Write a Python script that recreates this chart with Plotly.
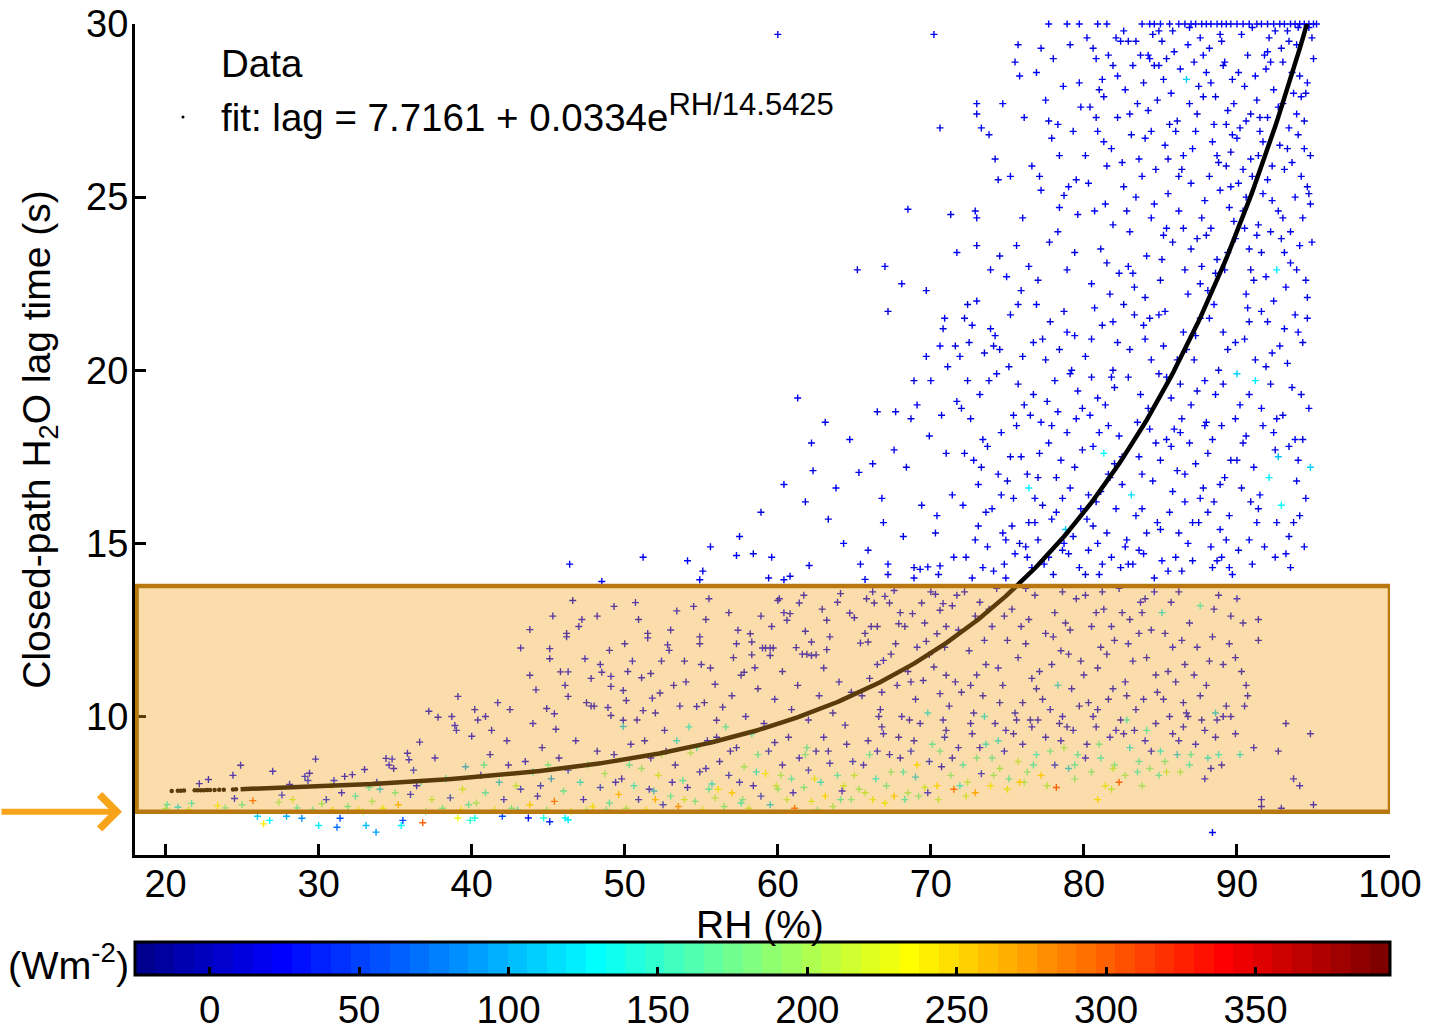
import numpy as np
import plotly.graph_objects as go

# ---------------- data: (RH %, lag s, irradiance W m-2) ----------------
pts_top_row = [
    (77.7,30,22),(78.9,30,18),(79.7,30,25),(80.9,30,15),(81.5,30,20),(83.8,30,12),(84.3,30,24),(84.6,30,16),
    (85.0,30,30),(85.6,30,14),(86.2,30,21),(86.6,30,9),(87.0,30,26),(87.3,30,17),(87.7,30,11),(88.0,30,23),
    (88.3,30,19),(88.7,30,28),(89.0,30,13),(89.3,30,20),(89.6,30,8),(90.0,30,24),(90.4,30,16),(90.8,30,22),
    (91.3,30,10),(91.6,30,27),(92.0,30,15),(92.4,30,19),(92.8,30,12),(93.1,30,25),(93.5,30,18),(93.8,30,21),
    (94.1,30,14),(94.4,30,26),(94.7,30,11),(95.0,30,17),(95.2,30,23)]

pts_upper_sparse = [
    (46.4,14.4,18),(48.5,13.9,22),(51.2,14.6,15),(54.1,14.5,27),(55.1,14.2,12),(54.9,13.95,20),(55.6,14.9,16),
    (57.3,14.65,24),(58.4,14.7,11),(59.6,14.6,19),(59.4,14.0,14),(60.4,13.95,21),(60.8,14.05,9),(62.05,14.36,17),
    (65.4,14.4,13),(67.2,14.4,25),(67.2,14.1,16),(65.7,13.96,20),(68.9,14.3,12),(69.3,14.25,18),(69.8,14.32,23),
    (68.9,14.0,15),(70.5,14.1,19),(70.6,14.35,11),
    (60.0,29.7,16),(70.2,29.7,21),(70.6,27.0,13),(68.5,24.65,18),(71.3,24.5,10),(71.7,23.4,22),(69.7,22.3,15),
    (68.1,22.5,19),(65.2,22.9,12),(67.0,23.0,17),(67.2,21.7,14),(70.9,21.5,20),(70.8,21.2,11),(69.7,20.4,18),
    (70.6,20.7,23),(71.6,20.7,13),(71.9,20.4,16),(70.0,19.7,21),(68.9,19.7,9),(69.1,19.0,17),(68.7,18.6,14),
    (67.7,18.8,20),(66.5,18.8,12),(64.7,18.0,18),(63.1,18.5,15),(61.3,19.2,22),(62.3,17.1,11),(65.3,17.05,19),
    (66.2,17.3,16),(67.6,17.7,13),(60.4,16.7,21),(61.8,16.2,17),(63.3,15.7,10),(64.3,15.0,24),(62.2,17.9,14),
    (66.9,15.6,19),(65.9,14.8,12),(68.2,15.2,20),(69.4,16.1,15),(71.0,17.6,18),(70.3,15.3,13),(71.4,16.4,22),
    (69.9,18.1,11),(71.7,19.1,17),(57.5,15.2,20),(58.9,15.9,14),(63.8,16.6,18),(66.8,16.3,21),(68.4,17.2,12),
    (70.7,18.7,16)]

pts_upper_mid = [
    (72.9,24.6,14),(73.0,27.7,20),(73.0,27.4,11),(73.3,27.0,17),(73.8,26.8,9),(74.7,27.7,23),(75.7,29.4,15),
    (75.5,28.9,12),(75.8,28.5,19),(77.2,29.3,16),(77.5,27.8,21),(77.7,27.2,13),(78.3,27.1,18),(77.9,26.7,10),
    (78.65,28.2,24),(79.1,29.4,14),(79.7,28.3,20),(73.0,24.4,16),(73.0,23.6,11),(72.4,21.9,13),(73.9,22.9,18),
    (74.5,23.3,9),(74.95,22.7,25),(75.6,23.6,15),(75.9,22.3,12),(76.4,23.0,20),(76.6,25.9,17),(77.1,25.6,11),
    (75.2,25.6,23),(74.4,25.5,14),(77.2,25.2,19),(77.75,23.7,10),(78.3,24.0,16),(78.4,24.7,21),(78.7,25.05,13),
    (79.6,24.5,18),(79.5,25.5,12),(79.0,25.3,24),(78.4,26.2,15),(76.1,27.3,19),(74.2,26.1,13),(79.3,26.9,17),
    (76.9,28.6,22),(78.0,29.0,11),(79.8,27.6,16),(77.0,22.6,14),(78.9,22.9,20),(79.4,23.4,12),(76.0,24.4,18),
    (72.3,14.6,17),(73.6,15.9,12),(72.8,17.4,21),(74.1,14.2,15),(73.2,19.3,19),(75.3,15.5,10),(74.6,18.2,23),
    (72.5,20.8,14),(76.2,14.9,18),(75.0,16.8,13),(73.9,21.2,20),(76.8,16.3,16),(75.7,19.6,11),(77.4,14.4,22),
    (74.4,17.0,15),(77.9,15.7,19),(76.5,18.7,12),(72.1,16.1,24),(78.6,14.8,17),(75.2,21.6,13),(77.1,17.6,20),
    (79.3,15.2,14),(76.0,20.4,18),(78.2,16.9,11),(73.4,18.0,21),(79.7,14.3,16),(74.9,14.0,25),(77.6,19.1,13),
    (78.9,18.2,19),(76.4,15.6,15),(79.1,16.6,22),(72.9,15.1,12),(75.9,17.5,17),(78.4,20.6,14),(74.3,19.9,20),
    (77.8,21.4,10),(79.6,19.4,18),(73.0,22.0,15),(76.9,21.9,21),(78.0,14.1,13),(75.5,14.7,19),(72.6,18.6,16),
    (79.9,17.7,12),(74.0,16.0,23),(77.3,16.1,14),(78.8,15.4,110),(76.3,17.0,17),(73.7,14.9,20),(75.1,20.1,11),
    (79.4,21.0,18),(72.2,21.5,13),(78.3,18.8,22),(76.6,14.3,15),(74.7,15.3,19),(77.5,20.3,12),(79.0,14.7,16),
    (73.1,16.7,21),(75.6,18.4,14),(78.5,17.4,18),(76.1,19.0,10),(74.2,21.0,24),(77.0,15.1,13),(79.5,18.6,17),
    (72.7,14.0,20),(75.4,16.3,15),(78.1,19.7,19),(73.5,20.5,12),(76.7,20.8,16),(79.8,16.0,22),(74.8,14.4,14),
    (77.7,17.9,18),(75.8,15.0,11),(78.7,21.7,20),(73.3,17.2,13),(76.4,16.6,125),(79.2,20.0,17),(74.5,20.6,15),
    (77.2,18.5,21),(72.4,19.7,12),(78.6,16.3,19),
    (70.4,15.8,16),(71.5,14.6,21),(72.2,17.6,13),(73.1,15.5,18),(73.8,19.7,12),(74.6,16.4,20),(75.4,18.7,15),
    (76.3,14.6,19),(77.0,16.9,11),(77.9,18.4,17),(78.7,15.0,22),(79.4,17.2,14),(80.3,16.4,18),(81.2,14.4,13),
    (81.8,19.8,20),(71.1,20.1,15),(72.7,21.3,19),(74.1,20.7,12),(75.7,21.9,18),(77.3,20.9,14),(78.9,21.1,21),
    (80.5,20.9,16),(81.6,17.0,12),(76.8,15.6,19),(74.9,15.1,15),(73.4,14.3,22),(72.0,18.9,13),(78.2,15.9,17),
    (79.9,18.9,20),(75.2,17.5,11),(76.7,19.3,18),(79.1,19.9,14),(73.7,17.8,16),(77.7,14.6,19),(80.1,14.1,13)]

pts_upper_dense = [
    (80.2,29.6,18),(80.6,29.3,12),(80.8,29.0,22),(81.2,28.4,15),(81.6,29.1,20),(81.9,28.8,11),(82.1,29.6,17),
    (82.4,29.5,24),(82.9,29.5,13),(83.4,29.5,19),(83.7,29.1,9),(84.2,29.1,21),(84.5,29.7,14),(84.9,29.8,18),
    (85.1,29.5,12),(84.3,29.0,23),(84.9,28.8,16),(85.4,29.0,10),(85.9,29.2,20),(86.3,28.7,15),(86.8,29.4,22),
    (87.2,28.9,13),(87.6,29.6,17),(80.4,27.6,14),(80.9,26.9,21),(81.3,27.9,12),(81.8,26.4,18),(82.2,27.3,16),
    (82.7,28.1,23),(83.1,26.8,11),(83.5,27.7,19),(83.9,28.3,14),(84.4,26.9,20),(84.8,27.8,13),(85.3,26.5,17),
    (85.7,28.0,24),(86.1,27.2,12),(86.5,26.2,18),(86.9,27.7,15),(87.3,26.9,21),(87.8,27.9,10),(80.3,25.4,16),
    (80.7,24.6,22),(81.1,23.5,13),(81.5,25.9,19),(81.9,24.2,11),(82.3,22.8,17),(82.6,25.3,14),(83.0,24.0,23),
    (83.3,22.4,12),(83.8,25.6,18),(84.1,23.3,15),(84.6,24.8,20),(85.0,22.6,13),(85.5,25.1,17),(85.8,23.7,10),
    (86.2,24.6,22),(86.6,22.9,14),(87.0,25.4,19),(87.4,23.8,12),(87.9,24.9,16),(80.5,22.5,18),(81.7,22.2,14),
    (82.9,23.0,21),(84.0,22.1,13),(85.2,23.9,18),(86.4,25.8,11),(87.6,22.5,20),(81.4,24.8,15),(83.6,26.1,17),
    (85.6,27.1,12),(87.1,26.4,23),(80.1,26.2,16),(82.5,26.0,19),(84.7,25.8,14),(86.7,28.4,110),(83.2,28.8,17),
    (81.0,28.1,13),(85.4,24.1,21),(87.7,23.0,15),
    (80.3,14.8,16),(81.7,16.9,12),(80.9,19.2,20),(82.4,14.3,14),(83.6,17.5,18),(81.2,21.3,11),(84.8,15.6,22),
    (82.9,19.8,15),(85.5,14.2,19),(83.3,21.6,13),(86.1,17.1,17),(80.6,17.8,24),(84.2,18.9,12),(86.8,15.0,20),
    (82.1,16.0,16),(87.4,19.4,14),(85.2,20.7,18),(81.5,15.3,10),(83.9,14.7,21),(86.5,21.1,15),(80.1,20.4,19),
    (87.8,16.6,12),(84.5,16.8,17),(82.6,21.9,13),(85.9,18.3,22),(81.0,14.1,16),(83.1,16.4,118),(87.1,14.5,14),
    (84.0,20.9,20),(86.3,19.6,11),(80.8,16.2,18),(82.3,18.1,15),(85.6,15.9,21),(87.6,21.5,13),(83.7,19.3,17),
    (81.9,20.0,12),(86.9,17.9,19),(84.6,14.0,16),(80.4,18.7,23),(85.0,17.4,14),(82.8,15.1,18),(87.2,20.3,10),
    (83.4,15.8,20),(81.4,19.0,15),(86.0,14.6,17),(84.3,21.5,13),(80.7,21.8,21),(85.7,19.2,16),(82.0,17.3,12),
    (87.9,18.4,19),(83.0,20.6,14),(86.6,16.2,22),(81.8,14.6,17),(84.9,19.9,11),(80.2,15.7,18),(85.3,21.7,15),
    (82.5,16.7,20),(86.7,20.6,13),(83.8,17.0,16),(81.3,17.6,130),(87.5,15.6,19),(84.1,15.3,12),(85.8,16.5,21),
    (80.5,19.8,14),(82.2,20.8,17),(86.4,18.6,15),(83.5,18.5,20),(87.0,19.0,11),(81.6,18.4,18),(84.7,17.9,13),
    (85.1,14.5,22),(80.9,15.0,16),(82.7,14.9,19),(86.2,15.3,12),(83.2,14.4,17),(87.3,17.3,15),(84.4,20.3,20),
    (81.1,16.5,14),(85.4,18.0,18),(82.0,19.5,11)]

pts_upper_right = [
    (88.2,29.3,18),(89.1,28.8,12),(90.3,29.7,21),(91.2,28.5,15),(92.1,29.6,19),(93.0,28.9,13),(93.9,29.4,17),
    (94.6,28.3,22),(88.6,27.9,14),(89.7,28.4,20),(90.9,27.4,11),(91.8,29.1,18),(92.7,27.6,16),(93.6,28.6,23),
    (94.4,27.2,12),(95.0,29.0,17),(88.4,26.6,21),(89.4,27.5,15),(90.5,28.2,19),(91.5,26.9,13),(92.4,28.1,18),
    (93.3,26.4,10),(94.2,27.9,20),(94.8,26.2,14),(88.9,25.2,16),(90.0,26.7,22),(91.0,25.6,12),(92.0,27.3,17),
    (93.1,25.8,15),(94.0,26.8,19),(94.7,25.1,11),(88.3,24.1,18),(89.3,25.9,14),(90.4,24.6,20),(91.4,26.2,13),
    (92.3,24.9,17),(93.4,27.0,21),(94.3,24.4,15),(94.9,23.7,19),(88.7,23.2,12),(89.8,24.3,18),(90.8,23.5,16),
    (91.7,25.1,22),(92.9,23.8,13),(93.8,25.0,17),(94.5,22.6,11),(88.1,22.3,20),(89.2,22.9,14),(90.1,25.4,19),
    (91.1,22.6,12),(92.2,24.0,18),(93.2,22.4,15),(94.1,23.6,21),(94.8,24.8,13),(88.5,27.1,17),(89.6,26.3,11),
    (90.6,22.2,19),(91.6,23.4,14),(92.6,22.9,120),(93.5,23.1,16),(89.0,29.5,20),(90.7,29.1,13),(92.5,29.8,18),
    (94.0,29.9,15),(88.0,28.6,19),(91.3,27.8,12),(93.7,28.0,21),(89.5,24.7,16),(92.8,26.5,13),(90.2,27.0,18),
    (93.0,24.4,11),(91.9,28.7,20),(88.8,26.0,14),(94.6,22.1,17),(90.9,26.1,15),(89.9,23.8,21),(93.4,29.5,12),
    (92.0,25.5,19),(88.3,28.3,16),(91.4,24.2,14),(93.9,27.4,22),(89.3,27.1,13),(94.2,25.6,18),(90.6,25.0,15),
    (88.2,21.5,17),(89.4,20.6,12),(90.7,21.8,20),(91.9,20.1,14),(93.1,21.2,18),(94.3,20.8,11),(88.6,19.3,22),
    (89.9,18.6,15),(91.2,19.7,120),(92.4,18.2,16),(93.6,19.5,13),(94.7,18.9,19),(88.1,17.6,14),(89.2,16.9,20),
    (90.4,17.9,12),(91.5,16.4,18),(92.7,17.5,100),(93.9,16.8,15),(88.9,15.4,19),(90.1,14.8,13),(91.3,15.6,21),
    (92.5,14.6,16),(93.4,15.2,12),(94.4,14.9,18),(88.4,14.3,15),(89.7,14.1,22),(90.9,16.2,14),(92.0,21.4,17),
    (93.3,20.2,11),(94.0,17.4,19),(88.8,20.0,13),(90.2,19.0,18),(91.7,18.4,15),(92.9,16.1,130),(89.5,15.8,20),
    (91.0,14.4,12),(88.0,18.5,16),(90.5,20.9,19),(92.2,19.6,14),(93.8,18.0,21),(89.1,21.1,13),(91.6,21.7,17),
    (94.6,21.5,15),(90.8,15.1,18),(89.6,17.4,11),(92.6,15.6,20),(88.5,16.2,14),(93.5,14.3,16),(91.1,17.2,22),
    (90.0,19.9,110),(94.1,15.8,13),(88.3,14.9,19),(92.3,20.5,15),(89.0,14.6,17),(93.0,18.7,12)]

pts_upper_extra = [
    (82.6,29.8,16),(86.9,29.9,22),(88.9,29.7,13),(91.0,29.9,19),(93.3,29.8,15),(94.9,29.6,12),(90.1,28.6,18),
    (87.5,28.2,14),(85.2,28.4,20),(83.0,27.4,11),(89.8,27.7,17),(92.2,28.9,21),(94.5,28.0,13),(91.7,26.6,16),
    (88.7,26.2,19),(86.2,25.6,12),(84.0,26.7,23),(93.6,26.0,15),(90.4,25.8,18),(87.7,24.4,14),(85.1,23.2,20),
    (82.8,24.6,11),(92.7,24.6,17),(94.4,26.4,22),(89.4,23.4,13),(91.3,23.9,19),(93.9,22.9,16),(88.0,23.9,12),
    (86.8,22.2,18),(84.4,24.4,15),(81.3,26.6,21),(90.8,21.4,14),(92.8,20.7,20),(94.2,19.3,11),(89.1,19.6,17),
    (87.3,21.0,13),(85.4,19.8,19),(83.2,22.8,16),(91.6,18.9,22),(93.4,17.8,12),(88.4,18.0,18),(86.6,17.0,15),
    (84.3,18.3,21),(90.3,16.6,14),(92.1,16.9,120),(94.5,16.3,17),(89.3,15.1,13),(87.1,15.6,19),(85.0,15.4,16),
    (82.5,17.5,12),(91.8,14.9,18),(93.2,14.7,15),(88.7,14.5,20),(86.4,14.2,11),(83.6,14.8,17),(90.6,18.1,13),
    (89.9,20.8,19),(92.4,22.0,16),(94.0,21.1,22),(91.5,27.3,12),(93.0,27.7,18),(89.2,28.9,15),(87.8,29.1,21),
    (85.8,29.8,14),(94.7,29.9,20),(92.9,29.3,11),(90.6,27.2,17),(88.2,25.6,13),(86.0,26.9,19),(84.6,28.8,16),
    (82.2,28.5,22),(81.5,23.1,12),(83.9,21.3,18),(86.1,20.3,15),(88.5,21.9,21),(90.9,22.9,14),(93.5,24.0,20),
    (92.3,25.9,11),(89.6,25.3,17),(87.4,27.4,13),(85.5,26.1,19),(83.4,25.0,16),(80.8,27.3,12),(81.9,21.4,18),
    (84.9,21.6,15),(87.9,19.7,21),(90.0,17.4,14),(92.6,18.6,20),(94.3,18.0,11),(91.2,20.3,17),(88.9,16.7,13),
    (86.3,18.2,19),(83.8,16.0,16),(81.0,18.2,22),(80.6,15.5,12),(82.9,14.4,18),(85.7,17.8,15),(89.5,14.3,21),
    (93.7,15.6,14),(91.4,16.0,20),(94.8,17.2,110),(88.1,15.9,17),(87.0,23.5,13),(84.2,27.5,19),(89.7,26.8,16),
    (92.0,29.2,22),(94.1,28.5,12),(93.1,23.4,18),(90.5,24.1,15),(91.9,22.7,21),(88.6,22.8,14),(86.5,24.1,20),
    (94.6,25.3,11),(93.8,21.6,17),(92.5,17.7,13),(90.8,19.3,19),(89.0,18.4,16),(87.6,16.3,22)]

pts_band_left = [
    (20.0,7.34,190),(20.1,7.46,150),(20.8,7.38,120),(21.7,7.49,140),(21.5,7.31,210),(22.2,8.06,20),(22.8,8.18,15),
    (23.4,7.42,230),(23.9,7.36,170),(24.5,7.63,30),(24.4,8.30,25),(24.9,8.59,18),(25.0,7.45,160),(25.7,7.57,300),
    (26.0,7.12,110),(26.4,6.90,240),(26.8,7.0,130),(27.0,8.42,22),(27.4,7.52,190),(27.6,7.73,35),(27.9,7.12,95),
    (28.1,8.04,20),(28.3,7.6,210),(28.6,7.36,150),(28.9,7.06,80),(29.1,8.27,28),(29.3,8.15,35),(29.4,8.36,15),
    (29.8,8.77,24),(30.0,6.85,120),(30.2,7.48,180),(30.5,7.6,40),(30.8,8.0,210),(31.0,8.15,30),(31.2,6.8,70),
    (31.4,7.06,60),(31.7,8.27,18),(31.9,7.4,160),(32.2,8.32,25),(32.4,7.7,140),(32.6,7.3,240),(33.0,8.47,20),
    (33.1,6.85,100),(33.5,7.55,190),(33.75,6.66,90),(33.8,8.1,30),(34.2,7.35,230),(34.4,8.79,15),(34.6,8.6,22),
    (34.8,8.77,28),(34.9,8.5,12),(35.0,7.8,170),(35.4,6.85,130),(35.5,7.0,60),(35.8,8.94,20),(35.9,8.75,26),
    (36.2,8.45,35),(36.6,9.26,18),(36.7,8.1,140),(36.8,6.93,300),(37.2,10.15,16),(37.4,7.6,200),(37.6,8.8,25),
    (37.8,9.98,14),(38.1,7.35,160),(38.3,8.2,120),(38.7,10.0,20),(38.9,9.74,22),(39.0,9.6,30),(39.1,10.58,18),
    (39.4,7.9,210),(39.6,8.55,95),(39.8,7.45,150),(40.0,9.43,24),(40.2,10.2,12),
    (29.6,7.3,140),(31.5,7.8,25),(32.9,7.25,200),(34.0,7.9,110),(35.2,7.45,260),(36.0,7.75,30),(37.0,7.25,180),
    (38.6,7.65,45),(39.3,7.3,230),(36.4,8.0,20),(33.3,7.95,150),(30.9,7.3,250),
    (39.1,7.07,230),(39.9,7.0,150),(40.2,7.07,140),(42.0,7.12,60),(43.7,7.07,30),(44.7,7.07,140),(45.1,6.96,40),
    (46.1,7.07,130),(46.3,7.02,120)]

pts_band_mid = [
    (40.9,10.0,15),(41.7,10.4,22),(40.4,9.9,18),(43.8,12.51,14),(43.2,11.98,20),(43.8,11.19,12),(44.2,10.77,25),
    (44.9,10.23,16),(45.1,11.96,19),(45.1,11.67,13),(45.4,10.08,21),(45.5,9.63,17),(45.8,11.29,11),(46.3,11.29,23),
    (46.1,10.9,15),(46.3,10.58,19),(46.2,12.4,14),(46.2,12.3,18),(46.6,13.35,12),(47.2,12.8,20),(47.0,12.6,16),
    (47.4,11.67,22),(47.5,10.4,13),(47.8,10.3,17),(48.0,10.3,11),(48.4,11.5,19),(48.5,11.28,15),(48.9,10.26,21),
    (49.1,10.03,14),(49.3,13.18,18),(49.0,11.91,12),(49.1,11.16,24),(49.1,10.87,16),(49.9,10.75,20),(50.1,10.46,13),
    (49.9,9.89,17),(49.9,9.71,110),(50.2,11.3,15),(50.7,13.29,19),(50.9,12.8,12),(50.5,11.6,22),(51.1,11.12,16),
    (51.2,10.17,18),(51.7,11.24,14),(51.8,10.53,21),(51.5,12.4,13),(51.5,12.27,17),(52.3,10.68,11),(52.8,12.07,20),
    (52.9,11.91,15),(53.4,13.05,19),(53.9,11.6,12),(54.2,9.7,130),(54.5,13.18,16),(54.7,10.29,22),(54.9,12.1,14),
    (54.9,12.3,18),(55.3,12.8,11),(55.5,13.4,20),(55.9,10.93,16),(56.0,9.89,13),(56.4,10.27,19),(57.3,12.1,15),
    (57.4,12.49,21),(57.6,11.19,12),(57.8,11.28,17),(58.2,12.39,14),(58.3,12.15,20),(58.3,11.78,11),(58.5,11.41,18),
    (59.0,11.98,16),(59.2,11.98,13),(59.5,11.98,22),(59.7,11.98,15),(59.5,11.76,19),(60.0,13.35,12),(60.1,13.4,17),
    (60.4,13.0,21),(60.8,12.97,14),(60.6,12.78,18),(61.2,11.99,11),(61.4,13.28,20),(61.6,11.8,16),(61.9,11.8,13),
    (61.8,12.46,19),(62.2,12.15,15),(62.2,11.76,22),(62.5,11.78,12),(63.2,11.93,17),(63.2,12.78,14),(63.9,13.3,20),
    (64.1,13.55,11),(64.7,12.99,18),(65.0,12.85,15),
    (50.8,9.9,20),(52.0,10.1,14),(52.6,9.6,18),(53.2,10.9,12),(53.6,10.3,23),(54.0,11.0,16),(55.2,10.4,11),
    (55.6,11.4,19),(56.6,9.7,140),(57.0,10.6,15),(57.9,10.0,21),(58.7,10.8,13),(59.1,9.8,17),(59.8,10.5,22),
    (60.3,11.3,14),(60.9,10.2,18),(61.3,10.9,12),(62.0,9.9,20),(62.7,10.6,15),(63.0,11.4,19),(63.6,10.1,13),
    (64.0,11.0,24),(64.4,9.75,16),(64.8,10.7,11),(63.4,12.3,18),(62.9,13.1,14),(58.9,12.9,20),(56.8,13.0,13),
    (53.0,12.5,17),(48.2,12.9,15),
    (40.3,7.5,180),(40.6,8.3,25),(40.9,7.8,140),(41.2,8.9,20),(41.5,7.3,220),(41.8,8.1,110),(42.1,7.6,30),
    (42.4,8.6,16),(42.6,7.35,160),(42.9,8.0,200),(43.2,7.9,40),(43.5,8.7,22),(43.8,7.45,250),(44.0,8.4,130),
    (44.3,7.7,18),(44.6,9.1,14),(44.9,7.3,170),(45.2,8.2,90),(45.4,7.55,300),(45.7,8.8,20),(46.0,7.85,150),
    (46.3,8.45,35),(46.5,7.25,210),(46.8,9.3,17),(47.1,8.1,120),(47.3,7.6,26),(47.6,8.6,165),(47.9,7.4,230),
    (48.2,9.0,19),(48.4,7.95,45),(48.7,8.35,180),(49.0,7.5,140),(49.3,8.9,24),(49.6,7.75,260),(49.8,8.2,15),
    (50.1,7.35,190),(50.4,9.2,21),(50.6,8.0,130),(50.9,7.6,28),(51.1,8.5,175),(51.4,7.3,240),(51.7,8.8,16),
    (51.9,7.85,100),(52.2,8.3,205),(52.5,7.45,35),(52.7,9.0,23),(53.0,7.7,150),(53.3,8.6,12),(53.5,7.4,280),
    (53.8,8.15,140),(54.1,7.95,22),(54.3,8.95,185),(54.6,7.55,160),(54.9,8.4,18),(55.1,7.3,220),(55.4,9.3,26),
    (55.7,8.05,120),(55.9,7.65,195),(56.2,8.7,14),(56.5,7.4,170),(56.8,8.3,30),(57.0,7.8,250),(57.3,9.1,20),
    (57.6,7.5,135),(57.8,8.55,180),(58.1,7.35,210),(58.4,8.0,25),(58.7,8.9,150),(58.9,7.7,40),(59.2,8.35,230),
    (59.5,7.45,110),(59.8,9.25,17),(60.0,7.9,175),(60.3,8.6,20),(60.6,7.6,200),(60.9,8.2,145),(61.1,7.35,300),
    (61.4,8.8,23),(61.7,7.95,160),(62.0,8.45,35),(62.2,7.55,215),(62.5,9.0,18),(62.8,8.1,125),(63.1,7.7,240),
    (63.4,8.65,28),(63.6,7.4,185),(63.9,8.3,140),(64.2,7.85,22),(64.5,9.2,15),(64.8,7.6,170),(40.8,8.6,150),
    (43.0,7.3,130),(45.0,8.6,160),(47.5,7.3,190),(49.4,8.1,25),(51.3,9.3,14),(53.4,9.3,120),(56.0,9.4,19),
    (58.3,9.5,130),(60.7,9.4,20),(62.6,7.3,160),(64.3,8.0,210),(52.0,7.6,260),(55.5,7.9,145),(57.5,8.1,30),
    (59.9,8.0,200),(61.9,9.1,150),(63.0,9.4,24),(48.8,7.3,155),(44.5,8.0,35),(42.3,9.3,18)]

pts_band_right = [
    (65.8,13.4,20),(66.3,13.28,12),(67.0,13.47,18),(67.3,13.28,14),(67.6,13.64,22),(66.1,12.6,16),(66.5,12.6,11),
    (65.4,12.12,19),(65.9,12.15,13),(66.5,11.5,17),(66.9,11.62,21),(67.9,12.68,15),(68.3,12.6,12),(68.8,12.97,18),
    (69.4,13.28,14),(70.0,13.6,20),(70.3,13.53,16),(70.6,13.07,11),(70.8,13.26,19),(70.4,12.39,13),(69.7,12.17,17),
    (69.1,12.0,22),(69.9,11.79,15),(69.5,11.04,18),(70.2,11.43,12),(70.6,10.66,20),(71.0,11.19,14),
    (71.4,13.2,16),(71.8,12.5,21),(72.2,13.6,13),(72.5,11.9,18),(72.9,12.9,11),(73.2,13.3,19),(73.6,11.5,15),
    (74.0,12.6,22),(74.3,13.7,12),(74.7,10.9,17),(75.0,12.2,14),(75.3,13.1,20),(75.7,11.7,16),(76.0,10.4,13),
    (76.4,12.8,19),(76.8,13.5,11),(77.1,11.3,18),(77.5,12.4,15),(77.8,10.2,21),(78.1,13.0,12),(78.5,11.9,17),
    (78.8,12.7,14),(79.2,10.8,20),(79.5,13.4,16),(79.8,11.6,13),
    (65.5,10.6,18),(66.0,11.1,12),(66.7,10.2,20),(67.4,11.8,14),(67.8,10.9,17),(68.5,11.3,11),(68.1,10.0,22),
    (69.0,10.5,15),(69.8,10.1,125),(71.2,10.3,16),(71.6,11.0,19),(72.0,10.7,13),(72.8,10.1,18),(73.4,10.6,12),
    (74.4,11.4,21),(75.5,10.1,15),(76.6,11.1,17),(77.3,10.5,14),(78.3,10.9,110),(79.0,11.8,19),(79.7,10.3,12),
    (73.0,11.2,16),(74.8,12.9,20),(76.2,12.1,13),(78.0,12.3,18),
    (65.3,7.9,180),(65.6,8.6,25),(65.9,9.3,18),(66.2,7.6,220),(66.4,8.2,130),(66.8,9.7,16),(67.1,8.0,160),
    (67.3,8.9,22),(67.6,7.7,250),(67.9,9.4,14),(68.2,8.4,140),(68.5,7.8,190),(68.7,9.0,28),(69.0,8.25,110),
    (69.3,9.8,20),(69.6,7.95,210),(69.9,8.7,35),(70.1,9.2,150),(70.4,8.0,240),(70.7,8.55,17),(71.0,9.6,13),
    (71.3,8.3,175),(71.5,7.9,300),(71.8,9.1,24),(72.1,8.6,140),(72.4,8.1,200),(72.7,9.5,19),(73.0,8.8,160),
    (73.3,8.35,30),(73.6,9.2,120),(73.9,8.0,230),(74.2,9.8,15),(74.5,8.5,185),(74.8,9.0,21),(75.1,8.2,150),
    (75.4,9.5,12),(75.7,8.7,200),(76.0,9.2,26),(76.3,8.4,170),(76.6,9.7,18),(76.9,8.9,135),(77.2,8.3,250),
    (77.5,9.4,20),(77.8,9.0,160),(78.1,8.6,40),(78.4,9.8,14),(78.7,9.1,190),(79.0,8.5,110),(79.3,9.6,22),
    (79.6,8.9,145),(65.0,8.3,200),(66.0,8.9,150),(67.0,7.5,230),(68.0,8.8,20),(69.2,7.7,170),(70.5,7.6,200),
    (71.9,8.0,130),(72.9,7.8,270),(74.0,8.8,155),(75.0,7.9,220),(76.1,8.1,190),(77.0,9.9,16),(78.2,7.95,310),
    (79.4,8.2,175),(66.6,10.0,20),(68.6,9.9,14),(70.8,9.9,23),(73.5,10.0,120),(75.6,9.9,18),(78.6,10.0,21),
    (80.1,13.5,16),(80.5,12.6,21),(80.9,11.4,13),(81.3,13.1,18),(81.6,10.5,12),(82.0,12.2,20),(82.3,13.7,15),
    (82.7,11.0,19),(83.0,12.8,11),(83.4,10.2,17),(83.7,13.3,22),(84.1,11.7,14),(84.4,12.5,18),(84.8,10.7,13),
    (85.1,13.0,120),(85.5,11.3,16),(85.8,12.0,21),(86.2,13.6,12),(86.5,10.4,19),(86.9,12.7,15),(87.2,11.2,17),
    (87.6,13.2,140),(88.0,10.9,14),(88.4,12.3,20),(88.8,13.5,12),(89.1,11.5,18),(89.6,12.9,15),(90.0,13.4,22),
    (90.4,12.7,13),(90.6,10.9,17),(90.7,10.6,14),(90.5,10.3,19),(91.4,12.8,16),(91.4,12.2,11),(80.3,10.4,18),
    (81.1,12.0,14),(81.9,10.8,20),(82.5,13.0,12),(83.2,11.6,17),(83.9,10.5,15),(84.6,13.6,21),(85.3,12.4,13),
    (86.0,11.0,18),(86.7,10.1,16),(87.4,12.0,19),(88.2,11.6,12),(89.3,10.3,17),(80.8,13.0,15),(82.9,12.1,22),
    (84.0,13.4,14),(86.4,12.2,18),(88.6,10.1,110),(89.9,11.7,13),(81.5,11.8,19),(83.6,12.4,16),
    (80.2,9.2,20),(80.5,8.4,170),(80.8,9.7,15),(81.1,8.8,140),(81.4,8.0,220),(81.7,9.4,24),(82.0,8.6,160),
    (82.4,9.9,13),(82.7,8.3,190),(83.0,9.1,120),(83.3,9.6,18),(83.6,8.7,150),(84.0,9.3,22),(84.3,8.5,175),
    (84.7,9.8,14),(85.0,9.0,130),(85.4,8.4,200),(85.8,9.5,19),(86.1,8.9,110),(86.5,9.7,16),(86.9,8.6,140),
    (87.3,9.2,21),(87.7,9.9,12),(88.1,8.8,120),(88.6,9.4,18),(89.1,10.0,15),(89.9,9.5,20),(91.1,9.1,17),
    (80.9,7.6,240),(81.8,7.9,200),(82.3,8.1,310),(83.8,8.0,180),(84.9,8.3,150),(86.3,8.4,190),(87.9,8.2,25),
    (89.0,8.6,14),(90.2,8.9,120),(85.6,10.0,17),(82.8,9.9,140),(88.3,8.5,16),
    (91.6,7.6,18),(91.6,7.4,14),(92.9,7.35,20),(95.0,7.45,16),(93.2,9.8,13),(94.8,9.5,19),(92.7,9.0,12),
    (93.7,8.2,17),(94.1,8.0,15),(88.4,6.65,16)]

pts_band_extra = [
    (50.3,8.6,150),(51.6,7.9,30),(52.4,8.9,180),(53.1,8.1,22),(53.9,7.6,210),(54.7,9.1,140),(55.3,8.5,26),
    (56.1,7.9,230),(56.9,9.0,19),(57.7,7.6,165),(58.6,8.4,120),(59.4,9.0,33),(60.2,8.3,190),(61.0,7.8,25),
    (61.8,8.9,160),(62.4,8.2,220),(63.3,9.0,18),(64.1,7.6,150),(64.9,8.7,30),(65.7,7.8,200),(66.5,9.0,21),
    (67.4,8.4,175),(68.3,7.6,140),(69.1,8.6,240),(69.8,7.8,28),(70.6,9.0,160),(71.4,8.8,20),(72.3,7.7,210),
    (73.2,9.1,15),(74.1,8.3,180),(74.9,9.6,24),(75.8,8.1,250),(76.7,8.6,140),(77.6,8.0,195),(78.5,9.3,17),
    (79.4,8.6,150),(80.1,8.8,25),(81.0,9.2,160),(81.9,8.5,200),(82.6,9.5,18),(83.5,8.4,140),(84.4,9.0,20),
    (85.3,8.7,170),(86.2,9.3,22),(87.0,8.9,150),(87.9,9.6,15),(88.8,8.9,130),(89.6,10.0,18),(66.9,9.5,25),
    (68.9,9.3,14),(70.9,9.4,30),(72.6,9.8,18),(74.4,9.3,120),(76.5,9.9,14),(78.9,9.7,20),(80.6,10.0,16),
    (82.1,9.6,22),(84.1,9.6,140),(86.8,10.0,13),(88.7,9.9,17),
    (65.7,12.4,14),(66.8,10.7,19),(67.7,12.1,13),(68.7,11.0,20),(69.6,12.7,16),(70.9,12.0,12),(71.7,13.5,18),
    (72.6,10.9,15),(73.5,12.2,21),(74.5,10.4,13),(75.9,12.6,17),(76.9,10.8,14),(77.9,11.5,20),(79.1,12.5,12),
    (80.0,11.2,18),(80.9,10.2,15),(81.8,12.6,21),(82.8,10.6,13),(83.8,13.0,17),(84.7,11.2,14),(85.7,13.3,19),
    (86.6,11.5,12),(87.6,10.6,18),(88.5,13.1,15),(89.5,12.1,20),(90.3,11.3,13),(85.2,10.5,16),(81.2,13.6,19),
    (78.6,13.6,14),(76.2,13.7,18),(73.8,13.1,12),(71.0,12.6,20),(68.0,13.0,15),(66.2,13.6,19),(61.7,13.5,14),
    (59.6,12.6,18),(57.1,11.7,13),(55.0,11.5,20),(52.4,11.6,16),(50.0,12.1,12),(47.8,11.1,18),(45.3,12.9,15),
    (44.0,9.8,21),(42.5,10.2,13),(41.3,9.6,17)]

# fit: lag = A + B * exp(RH / C)  (parameters printed in the chart legend)
FIT_A, FIT_B, FIT_C = 7.7161, 0.0334, 14.5425
fit_dot_rh = [20.4, 20.8, 21.0, 21.2, 21.9, 22.1, 22.3, 22.5, 22.7, 22.9, 23.2, 23.5, 23.8, 24.4, 24.6]
FIT_RH_START, FIT_RH_END = 24.9, 94.6

band_lag = (7.25, 13.77)          # highlighted lag band
x_ticks = [20, 30, 40, 50, 60, 70, 80, 90, 100]
y_ticks = [10, 15, 20, 25, 30]
cbar_ticks = [0, 50, 100, 150, 200, 250, 300, 350]
X_RANGE, Y_RANGE, C_RANGE = (18, 100), (6, 30), (-25, 395)

# ---------------- style ----------------
FONT = "Arial, Liberation Sans, sans-serif"
W, H = 1432, 1031
ML, MR, MT, MB = 135, 42, 24, 176
PW, PH = W - ML - MR, H - MT - MB


def jet64():
    n = 16
    u = [j / n for j in range(1, n + 1)] + [1.0] * (n - 1) + [j / n for j in range(n, 0, -1)]

    def val(j):
        return u[j - 1] if 1 <= j <= len(u) else 0.0

    cols = []
    for k in range(1, 65):
        r, g, b = val(k - 24), val(k - 8), val(k + 8)
        cols.append("rgb(%d,%d,%d)" % (round(r * 255), round(g * 255), round(b * 255)))
    scale = []
    for i, c in enumerate(cols):
        scale.append([i / 64, c])
        scale.append([(i + 1) / 64, c])
    return scale


JET = jet64()

all_pts = (pts_top_row + pts_upper_sparse + pts_upper_mid + pts_upper_dense + pts_upper_right
           + pts_upper_extra + pts_band_left + pts_band_mid + pts_band_right + pts_band_extra)
rh = [p[0] for p in all_pts]
lag = [p[1] for p in all_pts]
irr = [p[2] for p in all_pts]

CB_TOP = -(942 - (H - MB)) / PH   # colorbar top edge in paper units

fig = go.Figure()
fig.add_trace(go.Scatter(
    x=rh, y=lag, mode="markers", name="Data", showlegend=False, cliponaxis=False,
    marker=dict(symbol="cross-thin-open", size=5, color=irr, colorscale=JET,
                cmin=C_RANGE[0], cmax=C_RANGE[1], line=dict(width=1.4),
                showscale=True,
                colorbar=dict(orientation="h", x=0, xanchor="left", y=CB_TOP, yanchor="top",
                              len=1, lenmode="fraction", thickness=33, thicknessmode="pixels",
                              xpad=0, ypad=0, outlinewidth=3, outlinecolor="black",
                              tickvals=cbar_ticks, ticks="inside", ticklen=9, tickwidth=3, tickcolor="black",
                              tickfont=dict(family=FONT, size=38.5, color="black")))))

fit_x = np.linspace(FIT_RH_START, FIT_RH_END, 400)
fig.add_trace(go.Scatter(x=fit_x, y=FIT_A + FIT_B * np.exp(fit_x / FIT_C), mode="lines",
                         line=dict(color="black", width=4.5), showlegend=False, hoverinfo="skip"))
fd = np.array(fit_dot_rh)
fig.add_trace(go.Scatter(x=fd, y=FIT_A + FIT_B * np.exp(fd / FIT_C), mode="markers",
                         marker=dict(color="black", size=4.5, symbol="circle"), showlegend=False))

shapes = [dict(type="rect", xref="x", yref="y", x0=X_RANGE[0] + 0.1, x1=X_RANGE[1],
               y0=band_lag[0], y1=band_lag[1], layer="above",
               fillcolor="rgba(243,162,27,0.37)", line=dict(color="#B8780F", width=4.5))]
# top-side colorbar ticks (bottom ones come from the colorbar itself)
for v in cbar_ticks:
    fx = (v - C_RANGE[0]) / (C_RANGE[1] - C_RANGE[0])
    shapes.append(dict(type="line", xref="paper", yref="paper", x0=fx, x1=fx,
                       y0=CB_TOP - 2 / PH, y1=CB_TOP - 11 / PH, line=dict(color="black", width=3)))
# legend marker dot
dx, dy = (183 - ML) / PW, (H - MB - 117) / PH
shapes.append(dict(type="circle", xref="paper", yref="paper", x0=dx - 1.5 / PW, x1=dx + 1.5 / PW,
                   y0=dy - 1.5 / PH, y1=dy + 1.5 / PH, fillcolor="black", line=dict(width=0)))

annotations = [
    dict(text="Data", xref="paper", yref="paper", x=(219 - ML) / PW, y=(H - MB - 64) / PH,
         xanchor="left", yanchor="middle", showarrow=False, font=dict(family=FONT, size=38.5, color="black")),
    dict(text="fit: lag = 7.7161 + 0.0334e<sup><span style=\"font-size:31px\">RH/14.5425</span></sup>",
         xref="paper", yref="paper",
         x=(219 - ML) / PW, y=(H - MB - 141) / PH, xanchor="left", yanchor="bottom", showarrow=False,
         font=dict(family=FONT, size=38.5, color="black")),
    dict(text="RH (%)", xref="paper", yref="paper", x=(760 - ML) / PW, y=(H - MB - 924) / PH,
         xanchor="center", yanchor="middle", showarrow=False, font=dict(family=FONT, size=39, color="black")),
    dict(text="(Wm<sup>-2</sup>)", xref="paper", yref="paper", x=(131 - ML) / PW, y=(H - MB - 962) / PH,
         xanchor="right", yanchor="middle", showarrow=False, font=dict(family=FONT, size=39.5, color="black")),
    dict(text="", xref="paper", yref="y", x=(122 - ML) / PW, y=band_lag[0], ax=-122, ay=0,
         showarrow=True, arrowhead=4, arrowsize=1.1, arrowwidth=6, arrowcolor="#F7A41B", standoff=0),
]

fig.update_layout(
    width=W, height=H, margin=dict(l=ML, r=MR, t=MT, b=MB, autoexpand=False),
    paper_bgcolor="white", plot_bgcolor="white", showlegend=False,
    font=dict(family=FONT, size=38, color="black"),
    shapes=shapes, annotations=annotations,
    xaxis=dict(range=list(X_RANGE), tickvals=x_ticks, ticks="inside", ticklen=11, tickwidth=3,
               tickcolor="black", showline=True, linewidth=3, linecolor="black", showgrid=False,
               zeroline=False, tickfont=dict(size=38), ticklabelstandoff=-7),
    yaxis=dict(range=list(Y_RANGE), tickvals=y_ticks, ticks="inside", ticklen=11, tickwidth=3,
               tickcolor="black", showline=True, linewidth=3, linecolor="black", showgrid=False,
               zeroline=False, tickfont=dict(size=38), ticklabelstandoff=-4,
               title=dict(text="Closed-path H<sub>2</sub>O lag time (s)", font=dict(size=39), standoff=24)),
)

fig.write_html("out.html")
